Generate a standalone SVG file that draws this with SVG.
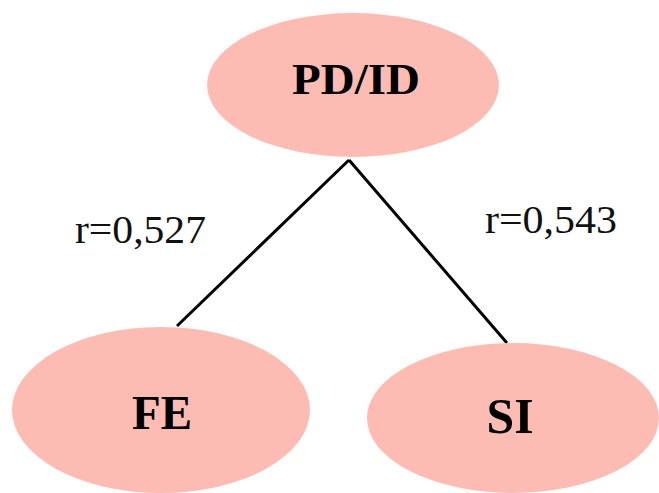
<svg xmlns="http://www.w3.org/2000/svg" width="659" height="493" viewBox="0 0 659 493">
  <style>
    .node { fill: #fdbcb3; }
    .label { font-family: "Liberation Serif", serif; font-weight: bold; fill: #000; text-anchor: middle; }
    .edge { stroke: #000; stroke-width: 3; fill: none; }
    .coef { font-family: "Liberation Serif", serif; font-size: 40px; fill: #111; }
  </style>
  <rect width="659" height="493" fill="#fff"/>
  <g id="connectors">
    <line class="edge" x1="177" y1="326" x2="349" y2="160"/>
    <line class="edge" x1="349" y1="160" x2="507" y2="343"/>
    <text class="coef" x="75" y="243" textLength="131" lengthAdjust="spacingAndGlyphs">r=0,527</text>
    <text class="coef" x="485" y="233" textLength="132" lengthAdjust="spacingAndGlyphs">r=0,543</text>
  </g>
  <g id="node-pdid">
    <ellipse class="node" cx="353" cy="85" rx="146" ry="72"/>
    <text class="label" x="356" y="94" font-size="44" textLength="128" lengthAdjust="spacingAndGlyphs">PD/ID</text>
  </g>
  <g id="node-fe">
    <ellipse class="node" cx="161" cy="410" rx="149" ry="83"/>
    <text class="label" x="162" y="429" font-size="48" textLength="60" lengthAdjust="spacingAndGlyphs">FE</text>
  </g>
  <g id="node-si">
    <ellipse class="node" cx="513" cy="418" rx="146" ry="75"/>
    <text class="label" x="510" y="433" font-size="50" textLength="47" lengthAdjust="spacingAndGlyphs">SI</text>
  </g>
</svg>
